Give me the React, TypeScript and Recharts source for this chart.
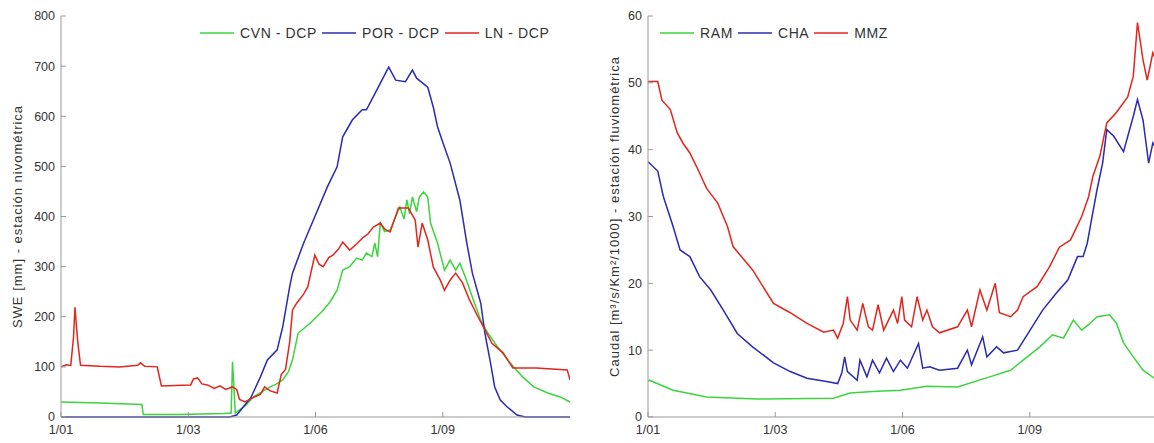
import { LineChart, Line, XAxis, YAxis, Legend } from 'recharts'

// dias del año hidrologico (0-365) y valores
const cvnDays = [0, 28, 58, 59, 85, 117, 122, 123, 125, 128, 132, 138, 144, 150, 154, 159, 163, 166, 170, 179, 188, 193, 198, 202, 207, 212, 216, 219, 223, 225, 227, 229, 232, 236, 240, 243, 246, 248, 250, 252, 255, 257, 260, 263, 265, 270, 275, 279, 283, 286, 290, 295, 301, 306, 313, 322, 331, 339, 349, 358, 365]
const cvnSwe = [30, 28, 25, 5, 5, 7, 8, 110, 8, 14, 22, 40, 50, 60, 65, 74, 90, 114, 167, 188, 213, 230, 253, 293, 300, 317, 313, 327, 320, 347, 320, 387, 370, 373, 400, 419, 395, 433, 405, 439, 410, 439, 449, 439, 387, 347, 293, 313, 293, 307, 279, 239, 193, 168, 140, 108, 80, 60, 48, 40, 30]

const porDays = [0, 121, 126, 136, 143, 148, 155, 159, 164, 166, 174, 181, 191, 198, 202, 209, 216, 219, 224, 229, 235, 240, 247, 252, 255, 263, 267, 270, 274, 279, 286, 291, 295, 301, 304, 308, 311, 315, 320, 327, 333, 365]
const porSwe = [0, 0, 4, 38, 80, 114, 134, 180, 260, 287, 347, 393, 459, 499, 559, 593, 613, 613, 639, 666, 698, 672, 669, 692, 676, 658, 618, 579, 546, 507, 433, 347, 287, 227, 167, 108, 60, 34, 20, 4, 0, 0]

const lnDays = [0, 4, 7, 9, 10, 12, 14, 28, 42, 55, 57, 60, 69, 72, 82, 93, 95, 98, 101, 105, 110, 114, 118, 123, 126, 128, 132, 137, 143, 146, 150, 155, 158, 161, 164, 166, 169, 174, 177, 182, 185, 188, 192, 195, 199, 202, 207, 212, 217, 220, 224, 229, 232, 236, 242, 249, 254, 256, 259, 263, 267, 272, 275, 279, 283, 288, 293, 299, 304, 309, 317, 324, 341, 363, 365]
const lnSwe = [100, 104, 103, 160, 219, 150, 103, 101, 100, 103, 108, 101, 100, 62, 63, 64, 76, 78, 66, 64, 57, 62, 55, 60, 55, 35, 30, 38, 45, 60, 52, 48, 85, 95, 150, 213, 227, 245, 260, 323, 305, 300, 318, 323, 335, 349, 333, 345, 359, 365, 379, 387, 375, 369, 417, 417, 393, 339, 387, 353, 299, 273, 253, 273, 287, 267, 233, 200, 174, 147, 128, 98, 98, 94, 74]

const ramDays = [0, 1, 18, 42, 78, 133, 145, 161, 181, 200, 222, 245, 260, 269, 281, 290, 298, 305, 311, 317, 322, 331, 336, 341, 348, 355, 363, 365]
const ramQ = [5.3, 5.5, 4.0, 3.0, 2.7, 2.8, 3.6, 3.8, 4.0, 4.6, 4.5, 6, 7, 8.5, 10.5, 12.3, 11.8, 14.5, 13.0, 14.0, 15, 15.3, 14.0, 11.1, 9, 7, 5.8, 5.5]

const chaDays = [0, 7, 11, 18, 23, 30, 37, 45, 54, 64, 75, 90, 102, 114, 128, 136, 139, 141, 143, 150, 152, 157, 161, 166, 171, 176, 181, 186, 194, 197, 202, 209, 222, 229, 232, 240, 243, 250, 255, 265, 274, 283, 293, 301, 308, 312, 315, 318, 322, 326, 329, 334, 341, 348, 351, 355, 359, 362, 365]
const chaQ = [38.2, 36.8, 33, 28.5, 25, 24, 21, 19, 16, 12.5, 10.5, 8.1, 6.8, 5.8, 5.3, 5.0, 6.6, 9.0, 6.8, 5.5, 8.5, 6, 8.5, 6.6, 8.8, 6.8, 8.5, 7.3, 11, 7.3, 7.5, 7.0, 7.3, 10, 7.8, 12, 9, 10.5, 9.6, 10, 13, 16, 18.6, 20.5, 24, 24, 26, 29.5, 34, 38, 43, 42, 39.7, 45, 47.5, 44.4, 38, 41, 40]

const mmzDays = [0, 7, 10, 16, 21, 25, 30, 35, 42, 50, 54, 57, 61, 75, 90, 102, 114, 126, 133, 136, 140, 143, 145, 150, 154, 158, 161, 165, 169, 176, 179, 182, 184, 189, 193, 197, 200, 204, 209, 222, 229, 232, 238, 243, 249, 252, 260, 265, 269, 279, 288, 295, 303, 311, 316, 319, 324, 329, 336, 344, 348, 351, 355, 358, 362, 365]
const mmzQ = [50.2, 50.2, 47.4, 46, 42.5, 41, 39.5, 37.4, 34.2, 32, 30, 28.5, 25.5, 22, 17, 15.6, 14, 12.7, 13, 11.8, 14, 18, 14.5, 13, 17, 13.5, 13, 16.8, 13, 16, 14, 18, 14.5, 13.5, 18, 14.5, 16, 13.5, 12.6, 13.5, 16, 13.5, 19, 16, 20, 15.6, 15, 16, 18, 19.5, 22.5, 25.4, 26.5, 30, 33, 36, 39, 44, 45.6, 47.9, 51, 59, 53.4, 50.4, 54.5, 53]

const xTickLabels = ['1/01', '1/03', '1/06', '1/09']
const sweTicks = [0, 100, 200, 300, 400, 500, 600, 700, 800]
const qTicks = [0, 10, 20, 30, 40, 50, 60]

const GREEN = '#3cd43c'
const BLUE = '#2a2ab2'
const RED = '#e2261e'
const FONT = '"Liberation Sans", Arial, sans-serif'

const zip = (days: number[], vals: number[]) => days.map((d, i) => ({ d, v: vals[i] }))
const xTicks = xTickLabels.map((_, i) => (i * 365) / 4)
const fmtX = (v: number) => xTickLabels[Math.round((v * 4) / 365)] ?? ''

const tickStyle = { fill: '#333', fontSize: 12.5, fontFamily: FONT }

// leyenda en el orden de las series (sin ordenar alfabeticamente)
const makeLegend = (series: any[]) => () => (
  <div style={{ display: 'flex', alignItems: 'center', fontFamily: FONT, fontSize: 14, letterSpacing: 0.6, color: '#333', whiteSpace: 'nowrap' }}>
    {series.map((s) => (
      <span key={s.name} style={{ display: 'flex', alignItems: 'center', marginRight: 5 }}>
        <svg width={34} height={4} style={{ marginRight: 6 }}>
          <line x1={0} y1={2} x2={34} y2={2} stroke={s.color} strokeWidth={1.5} />
        </svg>
        <span>{s.name}</span>
      </span>
    ))}
  </div>
)

function Panel({ series, yMax, yTicks, yLabel, yWidth, labelDx, legendLeft, width }: any) {
  return (
    <LineChart width={width} height={443} margin={{ top: 16, right: 10, left: 0, bottom: 0 }}>
      <XAxis
        xAxisId="b"
        type="number"
        dataKey="d"
        domain={[0, 365]}
        ticks={xTicks}
        interval={0}
        tickFormatter={fmtX}
        tickSize={-5}
        tickMargin={13}
        height={26}
        stroke="#999"
        tick={tickStyle}
        allowDataOverflow
      />
      <XAxis xAxisId="t" orientation="top" type="number" dataKey="d" domain={[0, 365]} ticks={xTicks} interval={0} tickFormatter={() => ''} tickSize={-5} height={0} stroke="#999" />
      <YAxis
        yAxisId="l"
        type="number"
        domain={[0, yMax]}
        ticks={yTicks}
        interval={0}
        tickSize={-5}
        tickMargin={11}
        width={yWidth}
        stroke="#999"
        tick={tickStyle}
        label={{ value: yLabel, angle: -90, position: 'center', dx: labelDx, style: { fill: '#333', fontSize: 13, fontFamily: FONT, letterSpacing: 1 } }}
      />
      <YAxis yAxisId="r" orientation="right" type="number" domain={[0, yMax]} ticks={yTicks} interval={0} tickFormatter={() => ''} tickSize={-5} width={0} stroke="#999" />
      <Legend
        layout="horizontal"
        verticalAlign="middle"
        align="center"
        content={makeLegend(series)}
        wrapperStyle={{ left: legendLeft, top: 25, width: 'auto' }}
      />
      {series.map((s: any) => (
        <Line
          key={s.name}
          xAxisId="b"
          yAxisId="l"
          data={s.data}
          dataKey="v"
          name={s.name}
          type="linear"
          stroke={s.color}
          strokeWidth={1.5}
          dot={false}
          activeDot={false}
          isAnimationActive={false}
        />
      ))}
    </LineChart>
  )
}

export default function App() {
  const sweSeries = [
    { name: 'CVN - DCP', color: GREEN, data: zip(cvnDays, cvnSwe) },
    { name: 'POR - DCP', color: BLUE, data: zip(porDays, porSwe) },
    { name: 'LN - DCP', color: RED, data: zip(lnDays, lnSwe) },
  ]
  const qSeries = [
    { name: 'RAM', color: GREEN, data: zip(ramDays, ramQ) },
    { name: 'CHA', color: BLUE, data: zip(chaDays, chaQ) },
    { name: 'MMZ', color: RED, data: zip(mmzDays, mmzQ) },
  ]
  return (
    <div style={{ position: 'fixed', left: 0, top: 0, width: 1154, height: 443, overflow: 'hidden', background: '#fff' }}>
      <div style={{ position: 'absolute', left: 0, top: 0 }}>
        <Panel series={sweSeries} yMax={800} yTicks={sweTicks} yLabel="SWE [mm] - estación nivométrica" yWidth={61} labelDx={-13} legendLeft={200} width={580} />
      </div>
      <div style={{ position: 'absolute', left: 590, top: 0 }}>
        <Panel series={qSeries} yMax={60} yTicks={qTicks} yLabel="Caudal [m³/s/Km²/1000] - estación fluviométrica" yWidth={58} labelDx={-5} legendLeft={70} width={577} />
      </div>
    </div>
  )
}
